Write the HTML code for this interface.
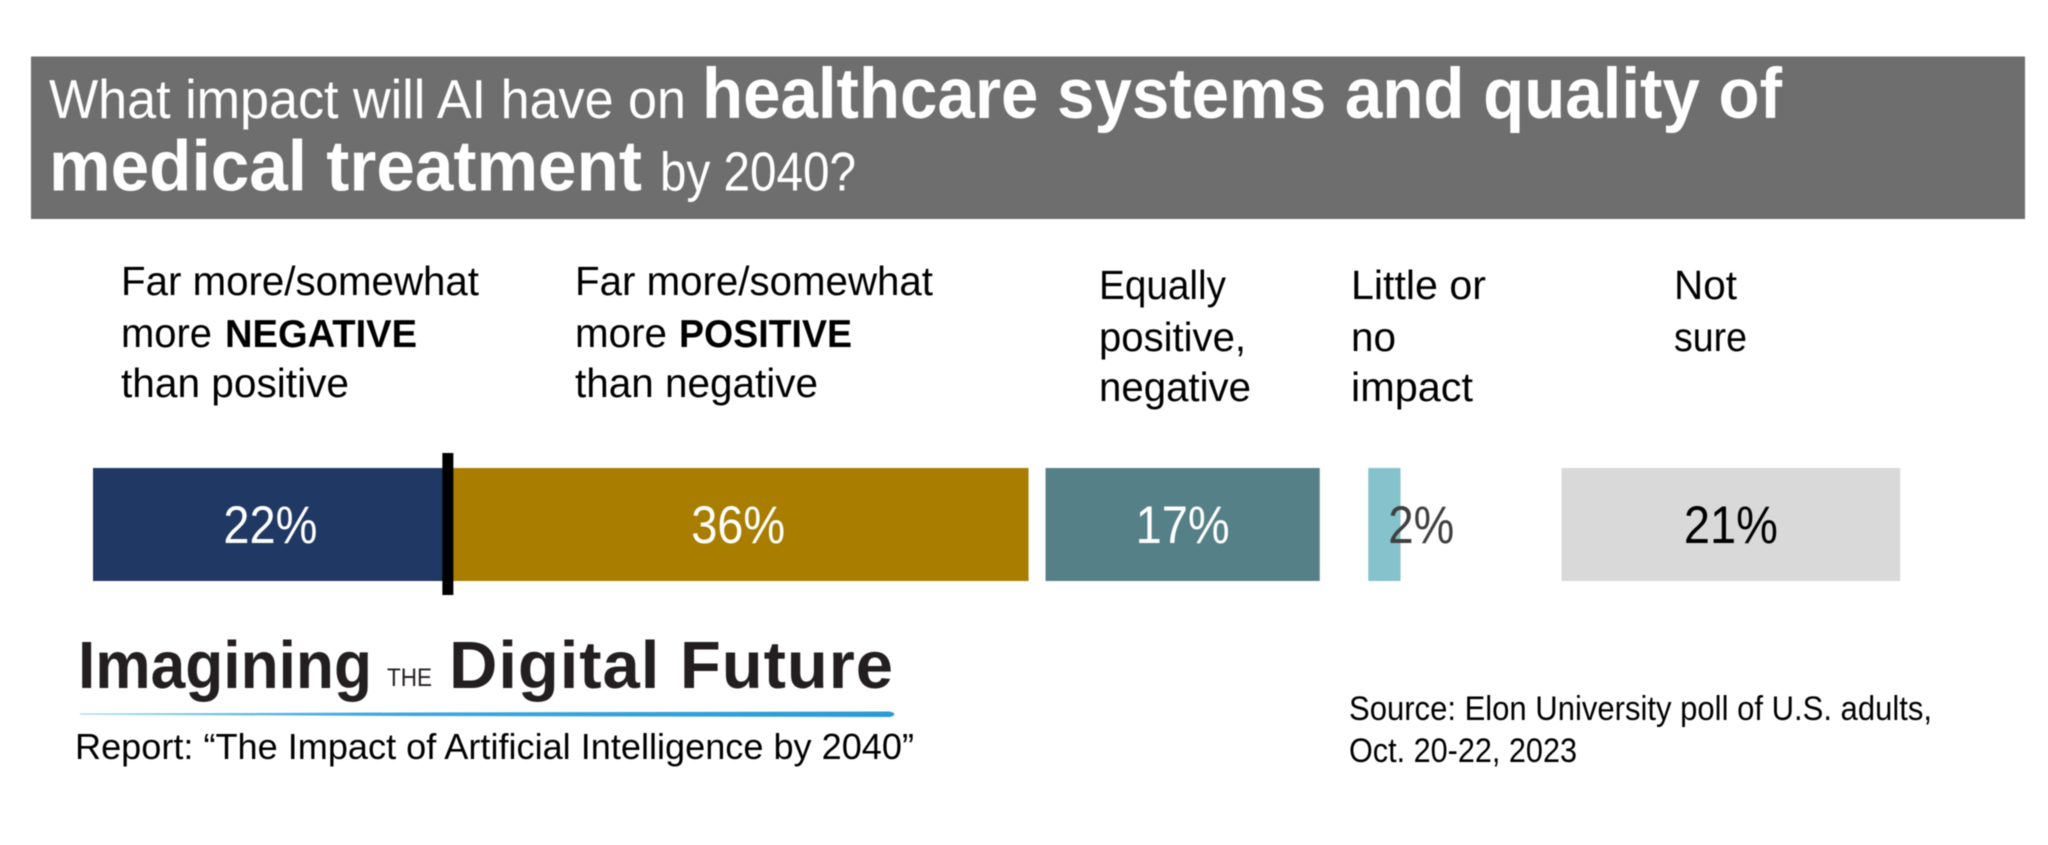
<!DOCTYPE html>
<html lang="en">
<head>
<meta charset="utf-8">
<title>What impact will AI have on healthcare systems and quality of medical treatment by 2040?</title>
<style>
html,body{margin:0;padding:0;background:#fff;width:2048px;height:845px;overflow:hidden}
svg{display:block;filter:blur(0.5px)}
text{font-family:"Liberation Sans",Arial,sans-serif}
.h{fill:#fff;font-size:55px}
.hb{fill:#fff;font-size:71px;font-weight:700}
.l{fill:#000;font-size:41px}
.lb{fill:#000;font-size:39px;font-weight:700}
.s{fill:#000;font-size:34px}
.r{fill:#000;font-size:36px}
.logo{fill:#231f20;font-size:67px;font-weight:700}
</style>
</head>
<body>
<svg id="chart" xmlns="http://www.w3.org/2000/svg" width="2048" height="845" viewBox="0 0 2048 845">
  <defs>
    <linearGradient id="rule-gradient" x1="0" x2="1" y1="0" y2="0">
      <stop offset="0" stop-color="#8ed2f2"/>
      <stop offset="0.35" stop-color="#3fa9de"/>
      <stop offset="1" stop-color="#2a9bd8"/>
    </linearGradient>
  </defs>
  <rect x="31" y="56.5" width="1994" height="162.5" fill="#6e6e6e"/>
  <g>
    <text class="h" x="49" y="118" textLength="637" lengthAdjust="spacingAndGlyphs">What impact will AI have on</text>
    <text class="hb" x="702" y="118" textLength="1080" lengthAdjust="spacingAndGlyphs">healthcare systems and quality of</text>
    <text class="hb" x="49" y="190.5" textLength="593" lengthAdjust="spacingAndGlyphs">medical treatment</text>
    <text class="h" x="660" y="190.5" textLength="196" lengthAdjust="spacingAndGlyphs">by 2040?</text>
  </g>

  <g>
    <text class="l" x="121" y="295" textLength="358" lengthAdjust="spacingAndGlyphs">Far more/somewhat</text>
    <text class="l" x="121" y="347" textLength="91" lengthAdjust="spacingAndGlyphs">more</text>
    <text class="lb" x="225" y="347" textLength="192" lengthAdjust="spacingAndGlyphs">NEGATIVE</text>
    <text class="l" x="121" y="397" textLength="228" lengthAdjust="spacingAndGlyphs">than positive</text>
  </g>
  <g>
    <text class="l" x="575" y="295" textLength="358" lengthAdjust="spacingAndGlyphs">Far more/somewhat</text>
    <text class="l" x="575" y="347" textLength="92" lengthAdjust="spacingAndGlyphs">more</text>
    <text class="lb" x="679" y="347" textLength="173" lengthAdjust="spacingAndGlyphs">POSITIVE</text>
    <text class="l" x="575" y="397" textLength="243" lengthAdjust="spacingAndGlyphs">than negative</text>
  </g>
  <g>
    <text class="l" x="1099" y="299" textLength="127" lengthAdjust="spacingAndGlyphs">Equally</text>
    <text class="l" x="1099" y="351" textLength="147" lengthAdjust="spacingAndGlyphs">positive,</text>
    <text class="l" x="1099" y="401" textLength="152" lengthAdjust="spacingAndGlyphs">negative</text>
  </g>
  <g>
    <text class="l" x="1351" y="299" textLength="135" lengthAdjust="spacingAndGlyphs">Little or</text>
    <text class="l" x="1351" y="351" textLength="45" lengthAdjust="spacingAndGlyphs">no</text>
    <text class="l" x="1351" y="401" textLength="122" lengthAdjust="spacingAndGlyphs">impact</text>
  </g>
  <g>
    <text class="l" x="1674" y="299" textLength="63" lengthAdjust="spacingAndGlyphs">Not</text>
    <text class="l" x="1674" y="351" textLength="73" lengthAdjust="spacingAndGlyphs">sure</text>
  </g>

  <g id="bars"></g>

  <g>
    <text class="logo" x="78" y="688" textLength="294" lengthAdjust="spacingAndGlyphs">Imagining</text>
    <text x="387" y="686" font-size="25" fill="#231f20" textLength="45" lengthAdjust="spacingAndGlyphs">THE</text>
    <text class="logo" x="449" y="688" textLength="444" lengthAdjust="spacing">Digital Future</text>
    <polygon points="80,713.5 400,712.5 890,711.5 894,713 894,715.5 890,717 400,716 80,714.5" fill="url(#rule-gradient)"/>
  </g>
  <text class="r" x="75" y="759" textLength="839" lengthAdjust="spacingAndGlyphs">Report: “The Impact of Artificial Intelligence by 2040”</text>
  <text class="s" x="1349" y="720" textLength="583" lengthAdjust="spacingAndGlyphs">Source: Elon University poll of U.S. adults,</text>
  <text class="s" x="1349" y="762" textLength="228" lengthAdjust="spacingAndGlyphs">Oct. 20-22, 2023</text>
</svg>
<script>
const categories = ['negative', 'positive', 'equal', 'little', 'not-sure'];
const values = [22, 36, 17, 2, 21];

const NS = 'http://www.w3.org/2000/svg';
const barsGroup = document.getElementById('bars');
const fills = ['#203864', '#a87d00', '#568087', '#85c2cb', '#d9d9d9'];
const inks = ['#ffffff', '#ffffff', '#ffffff', '#404040', '#000000'];
const spaceBefore = [0, 0, 17, 48.5, 161];
const BAR_START = 93;
const PX_PER_POINT = 16.13;
const BAR_TOP = 468;
const BAR_HEIGHT = 113;

function widthScale(v) { return v * PX_PER_POINT; }

let cursor = BAR_START;
let dividerX = BAR_START;
categories.forEach(function (cat, i) {
  cursor += spaceBefore[i];
  const w = widthScale(values[i]);

  const rect = document.createElementNS(NS, 'rect');
  
  
  rect.setAttribute('x', cursor);
  rect.setAttribute('y', BAR_TOP);
  rect.setAttribute('width', w);
  rect.setAttribute('height', BAR_HEIGHT);
  rect.setAttribute('fill', fills[i]);
  barsGroup.appendChild(rect);

  const label = values[i] + '%';
  const labelW = 28 * label.length + 10;
  const tooNarrow = w < labelW;
  const labelX = tooNarrow ? cursor + 20 : cursor + w / 2 - labelW / 2;

  const text = document.createElementNS(NS, 'text');
  
  
  text.setAttribute('x', labelX);
  text.setAttribute('y', 543);
  text.setAttribute('font-size', '53');
  text.setAttribute('fill', inks[i]);
  text.setAttribute('textLength', labelW);
  text.setAttribute('lengthAdjust', 'spacingAndGlyphs');
  text.textContent = label;
  barsGroup.appendChild(text);

  cursor += w;
  if (i === 0) {
    dividerX = cursor;
  }
});

const divider = document.createElementNS(NS, 'rect');


divider.setAttribute('x', dividerX - 5.5);
divider.setAttribute('y', 453);
divider.setAttribute('width', 11);
divider.setAttribute('height', 142);
divider.setAttribute('fill', '#000000');
barsGroup.appendChild(divider);
</script>
</body>
</html>
